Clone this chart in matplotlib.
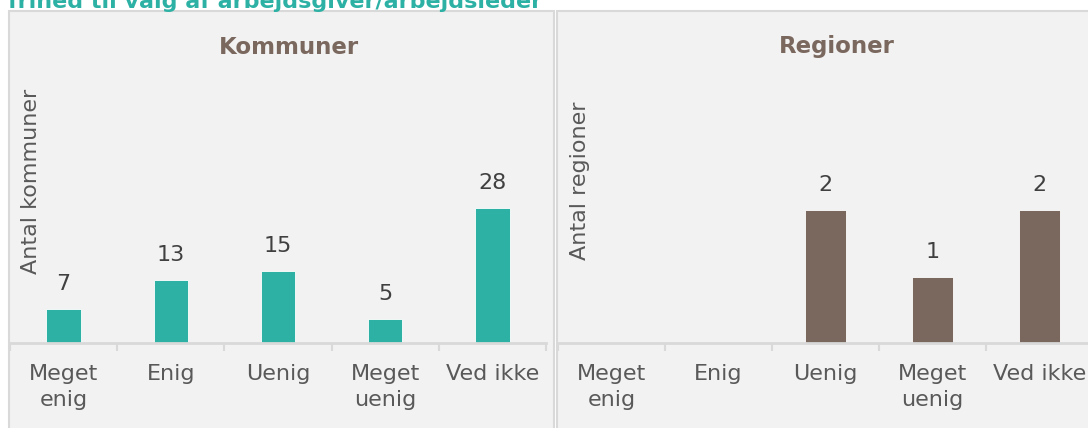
import matplotlib
matplotlib.use("Agg")
import matplotlib.pyplot as plt
from matplotlib.patches import Rectangle

# data
categories = ["Meget\nenig", "Enig", "Uenig", "Meget\nuenig", "Ved ikke"]
kommuner = [7, 13, 15, 5, 28]
regioner = [0, 0, 2, 1, 2]
headline = "frihed til valg af arbejdsgiver/arbejdsleder"

TEAL = "#2DB1A5"
BROWN = "#7A685E"
GREY_TXT = "#595959"
VAL_TXT = "#404040"
LINE = "#D9D9D9"
PANEL = "#F2F2F2"

W, H = 1088, 428
plt.rcParams["font.family"] = ["DejaVu Sans"]

fig = plt.figure(figsize=(W / 100, H / 100), dpi=100)


def px(x0, y_top, w, h):
    # pixel box (top-left origin) -> figure fraction rect
    return [x0 / W, 1 - (y_top + h) / H, w / W, h / H]


# panel boxes
for x0, x1 in [(9, 554), (557, 1095)]:
    fig.patches.append(Rectangle((x0 / W, -0.05), (x1 - x0) / W, 1 - 11 / H + 0.05,
                                 transform=fig.transFigure, facecolor=PANEL,
                                 edgecolor=LINE, linewidth=1.5, zorder=-5))

fig.text(8 / W, 1 - 8 / H, headline, color=TEAL, fontsize=16, fontweight="bold",
         ha="left", va="baseline")


def panel(rect, values, color, ymax, title, title_x, ylabel, ylabel_x, bar_w):
    ax = fig.add_axes(rect)
    ax.set_zorder(2)
    ax.patch.set_alpha(0)
    x = range(len(categories))
    bars = ax.bar(x, values, width=bar_w, color=color, edgecolor="white",
                  linewidth=0.6, zorder=2)
    for b, v in zip(bars, values):
        if v == 0:
            continue
        ax.annotate(str(v), (b.get_x() + b.get_width() / 2, v), xytext=(0, 18),
                    textcoords="offset points", ha="center", va="center",
                    fontsize=16, color=VAL_TXT)
    ax.set_xlim(-0.5, len(categories) - 0.5)
    ax.set_ylim(0, ymax)
    ax.set_xticks(list(x))
    ax.set_xticklabels(categories, fontsize=16, color=GREY_TXT, linespacing=1.4)
    ax.set_xticks([i - 0.5 for i in range(len(categories) + 1)], minor=True)
    ax.tick_params(axis="x", which="major", length=0, pad=15)
    ax.tick_params(axis="x", which="minor", length=6, width=1.5, color=LINE)
    ax.set_yticks([])
    for s in ["left", "right", "top"]:
        ax.spines[s].set_visible(False)
    ax.spines["bottom"].set_color(LINE)
    ax.spines["bottom"].set_linewidth(2)
    ax.spines["bottom"].set_zorder(3)
    fig.text(title_x / W, 1 - 47 / H, title, color=BROWN, fontsize=16.5,
             fontweight="bold", ha="center", va="center")
    fig.text(ylabel_x / W, 1 - 181 / H, ylabel, rotation=90, color=GREY_TXT,
             fontsize=16, ha="center", va="center")
    return ax


panel(px(10, 75, 536, 268), kommuner, TEAL, 268 / 4.82, "Kommuner", 289,
      "Antal kommuner", 31, 0.32)
panel(px(558, 75, 535, 268), regioner, BROWN, 268 / 66.3, "Regioner", 837,
      "Antal regioner", 580, 0.375)

fig.savefig("out.png", dpi=100)
